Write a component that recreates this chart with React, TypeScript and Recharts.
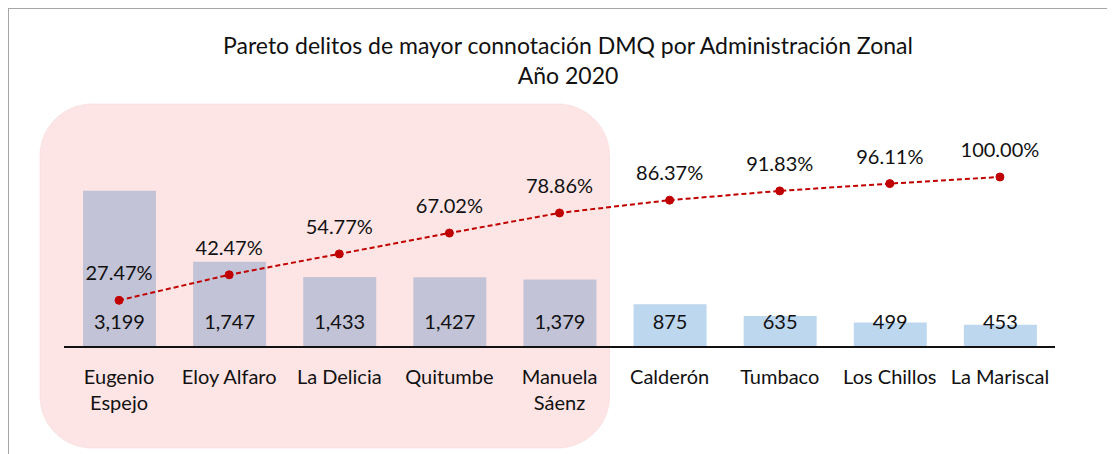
import { ComposedChart, Bar, Line, XAxis, YAxis, Cell, LabelList, ReferenceArea } from 'recharts'

const categories = [
  'Eugenio\nEspejo',
  'Eloy Alfaro',
  'La Delicia',
  'Quitumbe',
  'Manuela\nSáenz',
  'Calderón',
  'Tumbaco',
  'Los Chillos',
  'La Mariscal',
]
const delitos = [3199, 1747, 1433, 1427, 1379, 875, 635, 499, 453]
const acumulado = [0.2747, 0.4247, 0.5477, 0.6702, 0.7886, 0.8637, 0.9183, 0.9611, 1.0]

const data = categories.map((name, i) => ({ name, delitos: delitos[i], acumulado: acumulado[i] }))

const FONT = 'Lato, sans-serif'

function CategoryTick(props: any) {
  const { x, y, payload } = props
  const lines = String(payload.value).split('\n')
  return (
    <g>
      {lines.map((l: string, i: number) => (
        <text key={i} x={x} y={y + 29 + i * 26} textAnchor="middle" fill="#111" fontSize={20} fontFamily={FONT}>
          {l}
        </text>
      ))}
    </g>
  )
}

function ValueLabel(props: any) {
  const { x, y, width, height, value } = props
  return (
    <text x={x + width / 2} y={y + height - 26} textAnchor="middle" dominantBaseline="central" fill="#111" fontSize={20} fontFamily={FONT}>
      {value.toLocaleString('en-US')}
    </text>
  )
}

function PctLabel(props: any) {
  const { x, y, value } = props
  return (
    <text x={x} y={y - 28} textAnchor="middle" dominantBaseline="central" fill="#111" fontSize={20} fontFamily={FONT}>
      {(value * 100).toFixed(2)}%
    </text>
  )
}

function Highlight(props: any) {
  const { x, y, width, height } = props
  return (
    <rect x={x - 24} y={y - 39} width={width + 19} height={height + 140} rx={52} ry={52}
      fill="#fde5e5" stroke="#f9d2d2" strokeWidth={1} strokeDasharray="1 1" />
  )
}

export default function App() {
  return (
    <div style={{ position: 'relative', width: 1107, height: 446, borderTop: '1.5px solid #a6a6a6', borderLeft: '1.5px solid #a6a6a6', boxSizing: 'border-box' }}>
      <div style={{ position: 'absolute', left: 0, top: 21, width: 1118, textAlign: 'center', fontFamily: FONT, fontSize: 23, lineHeight: '30px', color: '#111' }}>
        Pareto delitos de mayor connotación DMQ por Administración Zonal
        <br />
        Año 2020
      </div>
      <ComposedChart width={1105} height={444} data={data} margin={{ top: 134, right: 59, bottom: 46, left: 55 }}>
        <XAxis dataKey="name" height={60} tick={<CategoryTick />} tickLine={false} axisLine={{ stroke: '#111', strokeWidth: 2 }} interval={0} />
        <YAxis yAxisId="left" hide domain={[0, 4175]} />
        <YAxis yAxisId="right" hide orientation="right" domain={[0, 1.2]} />
        <ReferenceArea yAxisId="left" x1={categories[0]} x2={categories[4]} shape={<Highlight />} ifOverflow="visible" />
        <Bar yAxisId="left" dataKey="delitos" barSize={73} isAnimationActive={false}>
          {data.map((_, i) => (
            <Cell key={i} fill={i < 5 ? '#c3c3d7' : '#bdd7ee'} />
          ))}
          <LabelList dataKey="delitos" content={<ValueLabel />} />
        </Bar>
        <Line yAxisId="right" dataKey="acumulado" stroke="#c00000" strokeWidth={2} strokeDasharray="5 3"
          dot={{ r: 4, fill: '#c00000', stroke: '#c00000', strokeWidth: 1, strokeDasharray: '' }}
          activeDot={false} isAnimationActive={false}>
          <LabelList dataKey="acumulado" content={<PctLabel />} />
        </Line>
      </ComposedChart>
    </div>
  )
}
